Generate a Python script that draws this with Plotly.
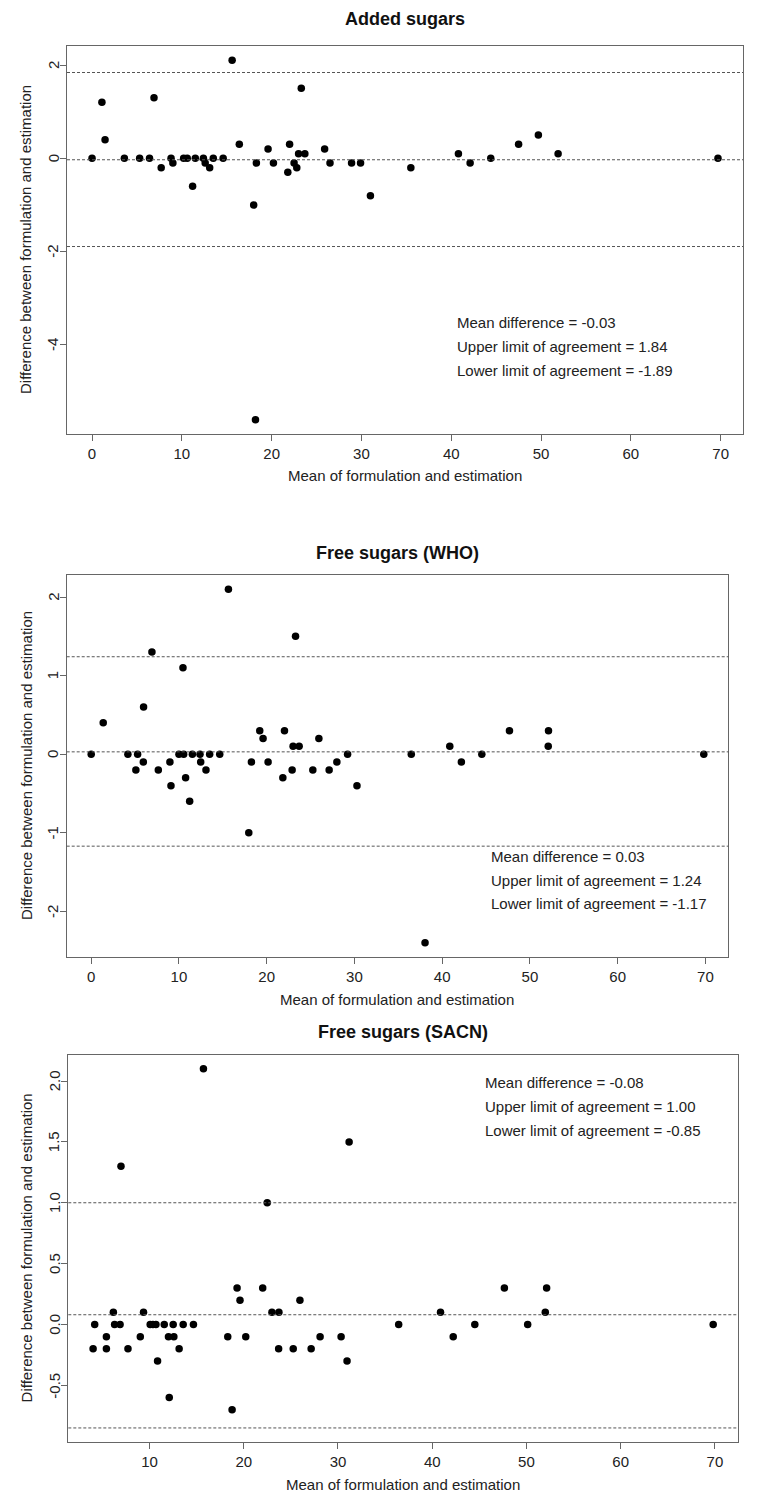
import plotly.graph_objects as go

W, H = 762, 1505

# --- data ---
titles = ["Added sugars", "Free sugars (WHO)", "Free sugars (SACN)"]

added_x = [0, 1.1, 1.45, 3.6, 5.3, 6.4, 6.9, 7.7, 8.8, 9.0, 10.2, 10.6, 11.2, 11.5, 12.4,
           12.6, 13.1, 13.5, 14.6, 15.6, 16.4, 18.0, 18.3, 19.6, 20.2, 21.8, 22.0, 22.5, 22.8, 23.0,
           23.3, 23.7, 25.9, 26.5, 28.9, 29.9, 31.0, 18.2, 35.5, 40.8, 42.1, 44.4, 47.5,
           49.7, 51.9, 69.7]
added_y = [0, 1.2, 0.4, 0, 0, 0, 1.3, -0.2, 0, -0.1, 0, 0, -0.6, 0, 0,
           -0.1, -0.2, 0, 0, 2.1, 0.3, -1.0, -0.1, 0.2, -0.1, -0.3, 0.3, -0.1, -0.2, 0.1,
           1.5, 0.1, 0.2, -0.1, -0.1, -0.1, -0.8, -5.6, -0.2, 0.1, -0.1, 0, 0.3,
           0.5, 0.1, 0]

who_x = [0, 1.37, 4.18, 5.09, 5.29, 5.94, 5.97, 6.92, 7.65, 8.97, 9.09, 10.0, 10.46, 10.54, 10.76,
         11.22, 11.53, 12.4, 12.48, 13.08, 13.5, 14.65, 15.64, 17.96, 18.26, 19.21, 19.59, 20.16,
         21.84, 22.03, 22.9, 23.01, 23.29, 23.7, 25.26, 25.95, 27.12, 28.0, 29.22, 30.29,
         36.48, 38.05, 40.87, 42.19, 44.52, 47.67, 52.12, 52.09, 69.82]
who_y = [0, 0.4, 0, -0.2, 0, -0.1, 0.6, 1.3, -0.2, -0.1, -0.4, 0, 1.1, 0, -0.3,
         -0.6, 0, 0, -0.1, -0.2, 0, 0, 2.1, -1.0, -0.1, 0.3, 0.2, -0.1,
         -0.3, 0.3, -0.2, 0.1, 1.5, 0.1, -0.2, 0.2, -0.2, -0.1, 0, -0.4,
         0, -2.4, 0.1, -0.1, 0, 0.3, 0.3, 0.1, 0]

sacn_x = [4.01, 4.18, 5.42, 5.42, 6.16, 6.29, 6.87, 6.97, 7.71, 9.02, 9.36, 10.07, 10.36, 10.68,
          10.85, 11.56, 12.01, 12.09, 12.51, 12.58, 13.14, 13.57, 14.66, 15.72, 18.3, 18.76,
          19.29, 19.6, 20.21, 22.01, 22.49, 22.99, 23.73, 23.7, 25.25, 25.96, 27.15, 28.1,
          30.33, 30.96, 31.18, 36.44, 40.88, 42.23, 44.52, 47.66, 50.13, 52.14, 52.0, 69.82]
sacn_y = [-0.2, 0, -0.1, -0.2, 0.1, 0, 0, 1.3, -0.2, -0.1, 0.1, 0, 0, 0,
          -0.3, 0, -0.1, -0.6, 0, -0.1, -0.2, 0, 0, 2.1, -0.1, -0.7,
          0.3, 0.2, -0.1, 0.3, 1.0, 0.1, 0.1, -0.2, -0.2, 0.2, -0.2, -0.1,
          -0.1, -0.3, 1.5, 0, 0.1, -0.1, 0, 0.3, 0, 0.3, 0.1, 0]

# upper limit, mean line, lower limit
added_lines = [1.84, -0.03, -1.89]
who_lines = [1.24, 0.03, -1.17]
sacn_lines = [1.00, 0.08, -0.85]

added_text = ["Mean difference = -0.03", "Upper limit of agreement = 1.84",
              "Lower limit of agreement = -1.89"]
who_text = ["Mean difference = 0.03", "Upper limit of agreement = 1.24",
            "Lower limit of agreement = -1.17"]
sacn_text = ["Mean difference = -0.08", "Upper limit of agreement = 1.00",
             "Lower limit of agreement = -0.85"]

y_ticks = [[-4, -2, 0, 2], [-2, -1, 0, 1, 2], [-0.5, 0.0, 0.5, 1.0, 1.5, 2.0]]
y_tick_labels = [["-4", "-2", "0", "2"], ["-2", "-1", "0", "1", "2"],
                 ["-0.5", "0.0", "0.5", "1.0", "1.5", "2.0"]]
x_ticks = [[0, 10, 20, 30, 40, 50, 60, 70], [0, 10, 20, 30, 40, 50, 60, 70],
           [10, 20, 30, 40, 50, 60, 70]]

# --- layout in pixels: box left, right, top, bottom; title y; text x, text y ---
boxes = [(67, 743, 46, 434), (66.7, 728.3, 575, 957), (68.3, 738, 1054.5, 1442.3)]
title_y = [19, 553, 1032]
text_pos = [(455, 322), (489, 856), (483, 1082)]

FONT = "Liberation Sans, Arial, sans-serif"
INK = "#222222"
FRAME = "#666666"


def pad(lo, hi):
    d = (hi - lo) * 0.04
    return [lo - d, hi + d]


def label(text, px, py, size=15, **kw):
    base = dict(text=text, x=px / W, y=1 - py / H, xref="paper", yref="paper",
                xanchor="center", yanchor="middle", showarrow=False,
                font=dict(family=FONT, size=size, color=INK))
    base.update(kw)
    return base


panels = [
    (added_x, added_y, added_lines, added_text),
    (who_x, who_y, who_lines, who_text),
    (sacn_x, sacn_y, sacn_lines, sacn_text),
]

fig = go.Figure()
annotations = []
shapes = []
layout_axes = {}

for i, (xs, ys, lines, texts) in enumerate(panels):
    n = "" if i == 0 else str(i + 1)
    left, right, top, bottom = boxes[i]
    xr = pad(min(xs), max(xs))
    yr = pad(min(ys + [lines[0], lines[2]]), max(ys + [lines[0], lines[2]]))

    fig.add_trace(go.Scatter(
        x=xs, y=ys, mode="markers", xaxis="x" + n, yaxis="y" + n,
        marker=dict(color="black", size=7.5, line=dict(width=0)),
        showlegend=False, hoverinfo="x+y",
    ))

    common = dict(showgrid=False, zeroline=False, showline=True, mirror=True,
                  linecolor=FRAME, linewidth=1, ticks="outside", ticklen=6,
                  tickcolor=FRAME, tickfont=dict(family=FONT, size=15, color=INK))
    layout_axes["xaxis" + n] = dict(
        domain=[left / W, right / W], range=xr, anchor="y" + n,
        tickvals=x_ticks[i], **common)
    layout_axes["yaxis" + n] = dict(
        domain=[1 - bottom / H, 1 - top / H], range=yr, anchor="x" + n,
        tickvals=y_ticks[i], showticklabels=False, **common)

    # R-style rotated y tick labels
    for v, t in zip(y_ticks[i], y_tick_labels[i]):
        annotations.append(dict(text=t, x=(left - 14) / W, y=v, xref="paper",
                                yref="y" + n, xanchor="center", yanchor="middle",
                                textangle=-90, showarrow=False,
                                font=dict(family=FONT, size=15, color=INK)))

    for v in lines:
        shapes.append(dict(type="line", xref="x" + n + " domain", yref="y" + n,
                           x0=0, x1=1, y0=v, y1=v,
                           line=dict(color="#555555", width=1, dash="3px,2px")))

    cx = (left + right) / 2
    annotations.append(label("<b>" + titles[i] + "</b>", cx, title_y[i], size=18,
                             font=dict(family=FONT, size=18, color="#111111")))
    annotations.append(label("Mean of formulation and estimation", cx, bottom + 42))
    annotations.append(label("Difference between formulation and estimation",
                             26, (top + bottom) / 2, textangle=-90))
    tx, ty = text_pos[i]
    for k, t in enumerate(texts):
        annotations.append(label(t, tx, ty + 24 * k, xanchor="left"))

fig.update_layout(
    width=W, height=H, margin=dict(l=0, r=0, t=0, b=0),
    paper_bgcolor="white", plot_bgcolor="white",
    annotations=annotations, shapes=shapes, **layout_axes,
)

fig.write_html("out.html", config={"displayModeBar": False},
               post_script="document.body.style.margin='0';")
